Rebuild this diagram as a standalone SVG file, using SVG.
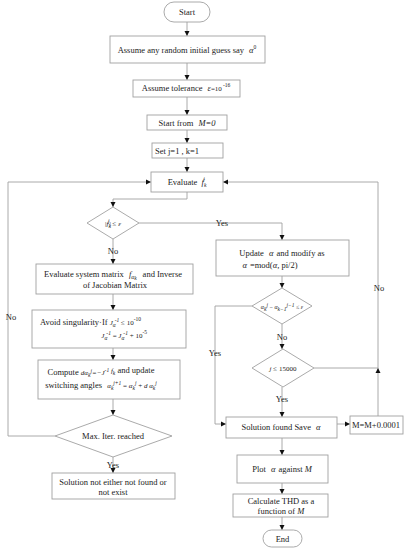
<svg xmlns="http://www.w3.org/2000/svg" width="410" height="550" viewBox="0 0 410 550">
<defs>
<marker id="ar" markerUnits="userSpaceOnUse" markerWidth="6" markerHeight="6" refX="5" refY="3" orient="auto">
<path d="M0,0.5 L5,3 L0,5.5 z" fill="#111"/>
</marker>
<style>
.b{fill:#fff;stroke:#a0a0a0;stroke-width:0.9}
.l{fill:none;stroke:#a0a0a0;stroke-width:0.9}
.a{marker-end:url(#ar)}
text{font-family:"Liberation Serif","Times New Roman",serif;font-size:8.5px;fill:#222}
.m{text-anchor:middle}
.i{font-style:italic}
.s{font-size:5.5px}
.sm{font-size:7px}
</style>
</defs>
<rect width="410" height="550" fill="#fff"/>
<g id="connectors">
<path class="l a" d="M187,22 V36"/>
<path class="l a" d="M187,63 V80"/>
<path class="l a" d="M187,97 V115"/>
<path class="l a" d="M187,130 V143"/>
<path class="l a" d="M187,158 V172"/>
<path class="l a" d="M187,192 V199 H113 V207"/>
<path class="l a" d="M113,239 V264"/>
<path class="l a" d="M113,294 V310"/>
<path class="l a" d="M113,348 V360"/>
<path class="l a" d="M113,399 V415"/>
<path class="l a" d="M113,457 V473"/>
<path class="l a" d="M55,436 H8 V182 H151"/>
<path class="l a" d="M139,223 H282 V240"/>
<path class="l a" d="M282,276 V288"/>
<path class="l a" d="M282,324 V349"/>
<path class="l a" d="M252,306 H215 V424 H226"/>
<path class="l a" d="M282,387 V417"/>
<path class="l a" d="M337,424 H350"/>
<path class="l a" d="M378,416 V368"/>
<path class="l" d="M314,368 H378"/>
<path class="l a" d="M378,368 V182 H223"/>
<path class="l a" d="M282,438 V455"/>
<path class="l a" d="M282,483 V494"/>
<path class="l a" d="M282,517 V530"/>
<text x="222" y="226" class="m">Yes</text>
<text x="113" y="254" class="m">No</text>
<text x="11" y="320" class="m">No</text>
<text x="215" y="356" class="m">Yes</text>
<text x="282" y="340" class="m">No</text>
<text x="379" y="291" class="m">No</text>
<text x="282" y="402" class="m">Yes</text>
<text x="113" y="468" class="m">Yes</text>
</g>
<g id="start">
<rect class="b" x="164" y="2" width="46" height="20" rx="10"/>
<text x="187" y="15" class="m">Start</text>
</g>
<g id="guess">
<rect class="b" x="110" y="36" width="155" height="27"/>
<text x="187" y="53" class="m">Assume any random initial guess say <tspan class="i" dx="3">α</tspan><tspan class="s" dy="-4">0</tspan></text>
</g>
<g id="tolerance">
<rect class="b" x="133" y="80" width="107" height="17"/>
<text x="186" y="91" class="m">Assume tolerance <tspan class="i" dx="3">ε</tspan><tspan class="sm">=10</tspan><tspan class="s" dy="-4" dx="1">-16</tspan></text>
</g>
<g id="startM">
<rect class="b" x="147" y="115" width="80" height="15"/>
<text x="187" y="125.5" class="m">Start from <tspan class="i" dx="3">M=0</tspan></text>
</g>
<g id="setjk">
<rect class="b" x="152" y="143" width="71" height="15"/>
<text x="155" y="153.5">Set j=1 , k=1</text>
</g>
<g id="evaluate">
<rect class="b" x="151" y="172" width="72" height="20"/>
<text x="187" y="185" class="m">Evaluate <tspan class="i" dx="2">f</tspan><tspan class="s i" dy="2">k</tspan><tspan class="s i" dx="-3" dy="-6">j</tspan></text>
</g>
<g id="check1">
<polygon class="b" points="113,207 139,223 113,239 87,223"/>
<text x="113" y="226" class="m sm">|<tspan class="i">f</tspan><tspan class="s i" dy="2">k</tspan><tspan class="s i" dx="-3" dy="-5">j</tspan><tspan dy="3">| ≤ </tspan><tspan class="i">ε</tspan></text>
</g>
<g id="jacobian">
<rect class="b" x="36" y="264" width="157" height="30"/>
<text x="113" y="277" class="m">Evaluate system matrix <tspan class="i" dx="3">f</tspan><tspan class="s i" dy="2">α</tspan><tspan class="s i" dy="1">k</tspan><tspan dy="-3" dx="6">and Inverse</tspan></text>
<text x="115" y="288" class="m">of Jacobian Matrix</text>
</g>
<g id="singularity">
<rect class="b" x="32" y="310" width="154" height="38"/>
<text x="40" y="325">Avoid singularity·If <tspan class="i sm">J</tspan><tspan class="s i" dy="2">α</tspan><tspan class="s i" dx="-1" dy="-5">-1</tspan><tspan class="sm" dy="3"> ≤ 10</tspan><tspan class="s" dy="-4">-10</tspan></text>
<text x="147" y="338" text-anchor="end"><tspan class="i sm">J</tspan><tspan class="s i" dy="2">α</tspan><tspan class="s i" dx="-1" dy="-5">-1</tspan><tspan class="sm" dy="3"> = </tspan><tspan class="i sm">J</tspan><tspan class="s i" dy="2">α</tspan><tspan class="s i" dx="-1" dy="-5">-1</tspan><tspan class="sm" dy="3"> + 10</tspan><tspan class="s" dy="-4">-5</tspan></text>
</g>
<g id="compute">
<rect class="b" x="38" y="360" width="142" height="39"/>
<text x="101" y="375" class="m">Compute <tspan class="i sm">dα</tspan><tspan class="s i" dy="2">k</tspan><tspan class="s i" dy="-4">j</tspan><tspan class="sm i" dy="2">=−J</tspan><tspan class="s i" dy="-3">-1</tspan><tspan class="sm i" dy="1"> f</tspan><tspan class="s i" dy="2">k</tspan><tspan dy="-2"> and update</tspan></text>
<text x="101" y="388" class="m">switching angles <tspan class="i sm" dx="3">α</tspan><tspan class="s i" dy="2">k</tspan><tspan class="s i" dy="-5">j+1</tspan><tspan class="sm" dy="3"> = </tspan><tspan class="i sm">α</tspan><tspan class="s i" dy="2">k</tspan><tspan class="s i" dy="-5">j</tspan><tspan class="sm" dy="3"> + </tspan><tspan class="i sm">d α</tspan><tspan class="s i" dy="2">k</tspan><tspan class="s i" dy="-5">j</tspan></text>
</g>
<g id="maxiter">
<polygon class="b" points="113,415 172,436 113,457 55,436"/>
<text x="113" y="439" class="m">Max. Iter. reached</text>
</g>
<g id="notfound">
<rect class="b" x="52" y="473" width="123" height="26"/>
<text x="113" y="485" class="m">Solution not either not found or</text>
<text x="113" y="495" class="m">not exist</text>
</g>
<g id="update">
<rect class="b" x="216" y="240" width="133" height="36"/>
<text x="282" y="256" class="m">Update <tspan class="i" dx="3">α</tspan><tspan dx="3">and modify as</tspan></text>
<text x="270" y="268" class="m"><tspan class="i">α</tspan><tspan dx="3">=mod(</tspan><tspan class="i">α</tspan>, pi/2)</text>
</g>
<g id="check2">
<polygon class="b" points="282,288 312,306 282,324 252,306"/>
<text x="282" y="309" class="m" style="font-size:6px"><tspan class="i">α</tspan><tspan class="s i" dy="1.5">k</tspan><tspan class="s i" dy="-4">j</tspan><tspan dy="2.5"> − </tspan><tspan class="i">α</tspan><tspan class="s i" dy="1.5">k−1</tspan><tspan class="s i" dy="-4">j−1</tspan><tspan dy="2.5"> ≤ </tspan><tspan class="i">ε</tspan></text>
</g>
<g id="check3">
<polygon class="b" points="283,349 314,368 283,387 252,368"/>
<text x="283" y="371" class="m sm"><tspan class="i">j</tspan> ≤ 15000</text>
</g>
<g id="found">
<rect class="b" x="226" y="417" width="111" height="21"/>
<text x="281" y="430" class="m">Solution found Save <tspan class="i" dx="3">α</tspan></text>
</g>
<g id="increment">
<rect class="b" x="350" y="416" width="53" height="18"/>
<text x="376" y="428" class="m">M=M+0.0001</text>
</g>
<g id="plot">
<rect class="b" x="237" y="455" width="91" height="28"/>
<text x="282" y="472" class="m">Plot <tspan class="i" dx="3">α</tspan><tspan dx="3">against</tspan> <tspan class="i">M</tspan></text>
</g>
<g id="thd">
<rect class="b" x="233" y="494" width="95" height="23"/>
<text x="281" y="504" class="m">Calculate THD as a</text>
<text x="281" y="514" class="m">function of <tspan class="i">M</tspan></text>
</g>
<g id="end">
<rect class="b" x="263" y="530" width="39" height="17" rx="8.5"/>
<text x="282.5" y="541.5" class="m">End</text>
</g>
</svg>
